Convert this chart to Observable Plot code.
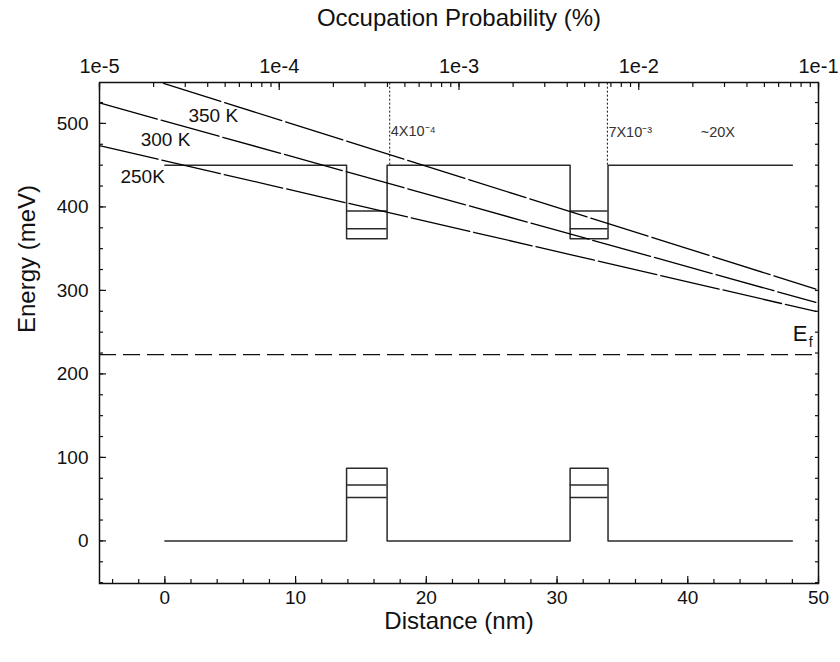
<!DOCTYPE html>
<html>
<head>
<meta charset="utf-8">
<script src="https://cdn.jsdelivr.net/npm/d3@7"></script>
<script src="https://cdn.jsdelivr.net/npm/@observablehq/plot@0.6"></script>
<style>
  body { margin: 0; background: #fff; }
  #chart { position: relative; width: 840px; height: 662px; }
  #chart svg { position: absolute; left: 0; top: 0; }
</style>
</head>
<body>
<div id="chart"></div>
<script>
// ---- data ----
const distanceDomain = [-5, 50];          // nm
const energyDomain = [-51, 549];          // meV
const occupationDomain = [1e-5, 1e-1];    // %
const occupationTicks = [1e-5, 1e-4, 1e-3, 1e-2, 1e-1];
const occupationTickLabels = ["1e-5", "1e-4", "1e-3", "1e-2", "1e-1"];

// band profile (conduction band top, barrier bottom)
const profileDistance = [0, 13.9, 13.9, 17.0, 17.0, 31.0, 31.0, 33.9, 33.9, 48];
const conductionEnergy = [450, 450, 362, 362, 450, 450, 362, 362, 450, 450];
const valenceEnergy = [0, 0, 87, 87, 0, 0, 87, 87, 0, 0];
const wellStart = [13.9, 31.0];
const wellEnd = [17.0, 33.9];
const conductionLevels = [395, 374];
const valenceLevels = [67, 52];
const fermiEnergy = 223;
const barrierTop = 450;

// temperature lines (straight, two read end points each)
const tempNames = ["350 K", "300 K", "250K"];
const tempStartDistance = [-0.1, -5, -5];
const tempStartEnergy = [548, 524.5, 473.3];
const tempEndDistance = [49.8, 49.8, 49.8];
const tempEndEnergy = [301.6, 285.6, 274.8];
const tempLabelDistance = [3.7, 0.05, -1.7];
const tempLabelEnergy = [508.7, 480, 435.6];

// occupation markers
const markerDistance = [17.2, 33.85];
const markerLabels = ["4X10\u207B\u2074", "7X10\u207B\u00B3"];
const markerLabelEnergy = [490, 489];
const ratioLabel = ["~20X"];
const ratioDistance = [42.3];
const ratioEnergy = [489];

const efLabel = ["E"], efDistance = [48.6], efEnergy = [247.8];
const efSub = ["f"], efSubDistance = [49.4], efSubEnergy = [238];

// ---- build ----
const W = 840, H = 662;
const common = {width: W, height: H, marginTop: 82, marginRight: 22, marginBottom: 79, marginLeft: 99};
const font = "'Liberation Sans', Arial, Helvetica, sans-serif";
const ink = "#111";
const lineInk = "#2a2a2a";

const conductionProfile = profileDistance.map((d, i) => ({d, e: conductionEnergy[i]}));
const valenceProfile = profileDistance.map((d, i) => ({d, e: valenceEnergy[i]}));
const cLevelSegs = wellStart.flatMap((s, i) => conductionLevels.map(e => ({x1: s, x2: wellEnd[i], e})));
const vLevelSegs = wellStart.flatMap((s, i) => valenceLevels.map(e => ({x1: s, x2: wellEnd[i], e})));
const tempLines = tempNames.flatMap((t, i) => [
  {t, d: tempStartDistance[i], e: tempStartEnergy[i]},
  {t, d: tempEndDistance[i], e: tempEndEnergy[i]}
]);
const tempLabels = tempNames.map((t, i) => ({t, d: tempLabelDistance[i], e: tempLabelEnergy[i]}));
const markers = markerDistance.map((d, i) => ({d, label: markerLabels[i], e: markerLabelEnergy[i]}));

const tickOpts = {text: null, tickFormat: () => "", label: null, stroke: ink, strokeWidth: 1.2};

const main = Plot.plot({
  ...common,
  style: {fontFamily: font, color: ink, background: "white"},
  x: {domain: distanceDomain, label: null},
  y: {domain: energyDomain, label: null},
  marks: [
    // inward ticks (drawn from the frame inward via offsets)
    Plot.axisX({anchor: "bottom", interval: 2, tickSize: 4, dy: -4, ...tickOpts}),
    Plot.axisX({anchor: "bottom", interval: 10, tickSize: 7, dy: -7, ...tickOpts}),
    Plot.axisX({anchor: "bottom", interval: 10, tickSize: 0, tickPadding: 7, fontSize: 19, label: null}),
    Plot.axisY({anchor: "left", interval: 25, tickSize: 4, dx: 4, ...tickOpts}),
    Plot.axisY({anchor: "left", interval: 100, tickSize: 7, dx: 7, ...tickOpts}),
    Plot.axisY({anchor: "left", interval: 100, tickSize: 0, tickPadding: 11, fontSize: 19, label: null}),
    Plot.axisY({anchor: "right", interval: 25, tickSize: 4, dx: -4, ...tickOpts}),

    Plot.ruleY([fermiEnergy], {stroke: ink, strokeWidth: 1.3, strokeDasharray: "17,7"}),

    Plot.line(conductionProfile, {x: "d", y: "e", stroke: lineInk, strokeWidth: 1.5}),
    Plot.line(valenceProfile, {x: "d", y: "e", stroke: lineInk, strokeWidth: 1.5}),
    Plot.ruleY(cLevelSegs, {y: "e", x1: "x1", x2: "x2", stroke: lineInk, strokeWidth: 1.5}),
    Plot.ruleY(vLevelSegs, {y: "e", x1: "x1", x2: "x2", stroke: lineInk, strokeWidth: 1.5}),

    Plot.ruleX(markers, {x: "d", y1: barrierTop, y2: energyDomain[1], stroke: ink, strokeWidth: 1, strokeDasharray: "2,2"}),
    Plot.text(markers, {x: "d", y: "e", text: "label", textAnchor: "start", dx: 1, fontSize: 14.5, fill: "#333"}),
    Plot.text(ratioLabel, {x: () => ratioDistance[0], y: () => ratioEnergy[0], text: d => d, fontSize: 14.5, fill: "#333"}),

    Plot.line(tempLines, {x: "d", y: "e", z: "t", stroke: "#000", strokeWidth: 1.3, strokeDasharray: "60,4", clip: true}),
    Plot.text(tempLabels, {x: "d", y: "e", text: "t", fontSize: 19}),

    Plot.text(efLabel, {x: () => efDistance[0], y: () => efEnergy[0], text: d => d, fontSize: 22}),
    Plot.text(efSub, {x: () => efSubDistance[0], y: () => efSubEnergy[0], text: d => d, fontSize: 14}),

    Plot.frame({stroke: ink, strokeWidth: 1.5}),

    Plot.text(["Distance (nm)"], {frameAnchor: "bottom", dy: 45, fontSize: 24}),
    Plot.text(["Energy (meV)"], {frameAnchor: "left", dx: -72, rotate: -90, fontSize: 24}),
    Plot.text(["Occupation Probability (%)"], {frameAnchor: "top", dy: -74, fontSize: 24})
  ]
});

const topAxis = Plot.plot({
  ...common,
  style: {fontFamily: font, color: ink, background: "transparent", pointerEvents: "none"},
  x: {type: "log", domain: occupationDomain, label: null},
  marks: [
    Plot.axisX({anchor: "top", tickSize: 4, dy: 4, ...tickOpts}),
    Plot.axisX({anchor: "top", ticks: occupationTicks, tickSize: 7, dy: 7, ...tickOpts}),
    Plot.axisX({anchor: "top", ticks: occupationTicks, tickSize: 0, tickPadding: 10, fontSize: 20,
      tickFormat: d => occupationTickLabels[occupationTicks.indexOf(d)], label: null})
  ]
});

const chart = document.getElementById("chart");
chart.append(main);
chart.append(topAxis);
</script>
</body>
</html>
